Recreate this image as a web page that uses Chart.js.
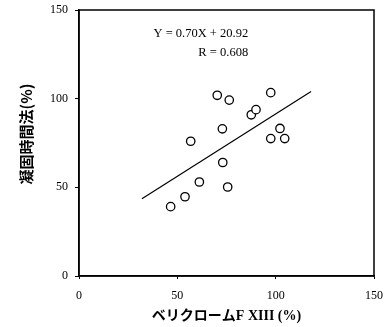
<!DOCTYPE html>
<html>
<head>
<meta charset="utf-8">
<script src="https://cdn.jsdelivr.net/npm/chart.js@4/dist/chart.umd.min.js"></script>
<style>
  html, body { margin: 0; padding: 0; background: #fff; }
  #wrap { width: 385px; height: 327px; }
</style>
</head>
<body>
<div id="wrap"><canvas id="c" width="385" height="327"></canvas></div>
<script>
// values
const fxiii = [46.6, 53.9, 61.2, 56.8, 70.3, 76.4, 72.9, 73.1, 75.6, 87.6, 90.0, 97.5, 97.5, 102.2, 104.6];
const clotting = [39.1, 44.7, 53.0, 76.0, 101.9, 99.2, 83.0, 64.0, 50.2, 90.9, 93.8, 103.4, 77.5, 83.2, 77.5];
const fitX = [32, 118];
const fitY = [43.5, 104];
const axisTicks = [0, 50, 100, 150];
const eqText = ['Y = 0.70X + 20.92', 'R = 0.608'];

const serif = "'Liberation Serif', 'Times New Roman', serif";

// box around the plot + equation text + y title
const extras = {
  id: 'extras',
  afterDraw(chart) {
    const { ctx, chartArea: a, scales } = chart;
    ctx.save();
    ctx.strokeStyle = '#000';
    ctx.lineWidth = 1.5;
    ctx.strokeRect(a.left, a.top, a.right - a.left, a.bottom - a.top);

    ctx.fillStyle = '#000';
    ctx.font = '12.5px ' + serif;
    ctx.textAlign = 'right';
    ctx.textBaseline = 'middle';
    const xr = scales.x.getPixelForValue(86);
    ctx.fillText(eqText[0], xr, scales.y.getPixelForValue(136.5));
    ctx.fillText(eqText[1], xr, scales.y.getPixelForValue(125.7));

    ctx.translate(26, 134);
    ctx.rotate(-Math.PI / 2);
    ctx.textAlign = 'center';
    ctx.font = "bold 15px 'Noto Sans CJK JP', sans-serif";
    ctx.fillText('凝固時間法(%)', 0, 0);
    ctx.restore();
  }
};

new Chart(document.getElementById('c'), {
  type: 'scatter',
  data: {
    datasets: [
      {
        data: fxiii.map((x, i) => ({ x: x, y: clotting[i] })),
        pointRadius: 4.2,
        pointBorderWidth: 1.3,
        pointBorderColor: '#000',
        pointBackgroundColor: '#fff',
        showLine: false
      },
      {
        data: fitX.map((x, i) => ({ x: x, y: fitY[i] })),
        showLine: true,
        borderColor: '#000',
        borderWidth: 1.2,
        pointRadius: 0
      }
    ]
  },
  options: {
    responsive: false,
    animation: false,
    layout: { padding: { top: 10, right: 11, left: 0, bottom: 0 } },
    plugins: { legend: { display: false }, tooltip: { enabled: false } },
    scales: {
      x: {
        type: 'linear',
        min: 0, max: 150,
        afterBuildTicks: (s) => { s.ticks = axisTicks.map(v => ({ value: v })); },
        afterFit: (s) => { s.height = 51; s.paddingLeft = 0; s.paddingRight = 0; },
        grid: { drawOnChartArea: false, drawTicks: true, tickLength: 3, color: '#000' },
        border: { color: '#000', width: 1.5 },
        ticks: { color: '#000', font: { family: serif, size: 12 }, padding: 10, maxRotation: 0 },
        title: {
          display: true,
          text: 'ベリクロームF XIII (%)',
          color: '#000',
          font: { family: "'Liberation Serif', 'Noto Sans CJK JP', serif", size: 14, weight: 'bold' },
          padding: { top: 0, bottom: 2 }
        }
      },
      y: {
        type: 'linear',
        min: 0, max: 150,
        afterBuildTicks: (s) => { s.ticks = axisTicks.map(v => ({ value: v })); },
        afterFit: (s) => { s.width = 79; s.paddingTop = 0; s.paddingBottom = 0; },
        grid: { drawOnChartArea: false, drawTicks: true, tickLength: 4, color: '#000' },
        border: { color: '#000', width: 1.5 },
        ticks: { color: '#000', font: { family: serif, size: 12 }, padding: 7 }
      }
    }
  },
  plugins: [extras]
});
</script>
</body>
</html>
